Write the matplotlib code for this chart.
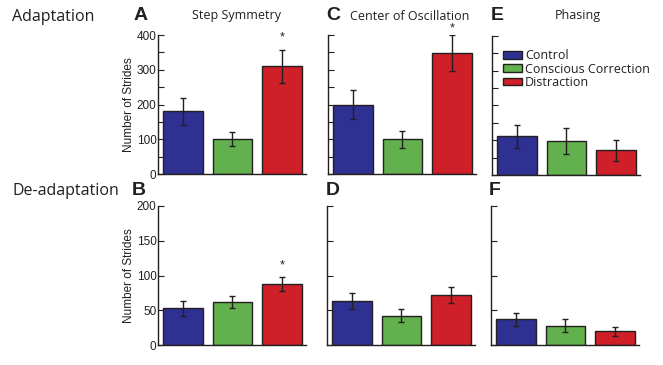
import matplotlib.pyplot as plt
from matplotlib.patches import Rectangle

groups = ["Control", "Conscious Correction", "Distraction"]
colors = ["#2e3192", "#62b04e", "#cf2029"]

# adaptation row (A, C, E)
step_adapt = [180, 100, 310]
step_adapt_err = [40, 20, 47]
center_adapt = [200, 100, 348]
center_adapt_err = [43, 24, 52]
phase_adapt = [111, 97, 71]
phase_adapt_err = [33, 37, 30]

# de-adaptation row (B, D, F)
step_deadapt = [53, 62, 88]
step_deadapt_err = [11, 9, 10]
center_deadapt = [64, 42, 72]
center_deadapt_err = [11.5, 9.5, 12]
phase_deadapt = [37, 28, 20]
phase_deadapt_err = [9, 9, 6.5]

# significance stars: (bar index, height)
star_A = (2, 393)
star_C = (2, 418)
star_B = (2, 114)

W, H = 663, 365
ink = "#231f20"


def make_ax(fig, x0, y0, x1, y1):
    return fig.add_axes([x0 / W, 1 - y1 / H, (x1 - x0) / W, (y1 - y0) / H])


def draw_bars(ax, vals, errs, ymax, major, labels=True):
    xs = [1, 2, 3]
    ax.bar(xs, vals, width=0.8, color=colors, edgecolor=ink, linewidth=1.0, zorder=2)
    ax.errorbar(xs, vals, yerr=errs, fmt="none", ecolor=ink, elinewidth=1.0,
                capsize=2, capthick=1.0, zorder=3)
    ax.set_xlim(0.5, 3.48)
    ax.set_ylim(0, ymax)
    ax.set_xticks([])
    ax.set_yticks(range(0, ymax + 1, major))
    ax.set_yticks(range(0, ymax + 1, 50), minor=True)
    ax.tick_params(axis="y", which="both", direction="in", length=4, width=0.8,
                   labelsize=8.5, pad=1, colors=ink, labelleft=labels)
    for s in ["top", "right"]:
        ax.spines[s].set_visible(False)
    for s in ["left", "bottom"]:
        ax.spines[s].set_color(ink)
        ax.spines[s].set_linewidth(1.0)
    for lab in ax.get_yticklabels():
        lab.set_fontfamily("Liberation Sans")


def add_star(ax, star):
    i, y = star
    ax.text(i + 1, y, "*", ha="center", va="center", fontsize=9, color=ink,
            clip_on=False, fontfamily="Liberation Sans")


def main():
    fig = plt.figure(figsize=(6.63, 3.65), dpi=100)

    axA = make_ax(fig, 158, 35, 306, 174)
    axC = make_ax(fig, 328, 35, 476, 174)
    axE = make_ax(fig, 492, 36, 640, 175)
    axB = make_ax(fig, 158, 206, 306, 345)
    axD = make_ax(fig, 327, 206, 475, 345)
    axF = make_ax(fig, 491, 206, 639, 345)

    draw_bars(axA, step_adapt, step_adapt_err, 400, 100)
    draw_bars(axC, center_adapt, center_adapt_err, 400, 100, labels=False)
    draw_bars(axE, phase_adapt, phase_adapt_err, 400, 100, labels=False)
    draw_bars(axB, step_deadapt, step_deadapt_err, 200, 50)
    draw_bars(axD, center_deadapt, center_deadapt_err, 200, 50, labels=False)
    draw_bars(axF, phase_deadapt, phase_deadapt_err, 200, 50, labels=False)

    add_star(axA, star_A)
    add_star(axC, star_C)
    add_star(axB, star_B)

    for ax in [axA, axB]:
        ax.set_ylabel("Number of Strides", fontsize=8.5, color=ink, labelpad=1,
                      fontfamily="Liberation Sans")

    # legend in panel E
    handles = [Rectangle((0, 0), 1, 1, facecolor=c, edgecolor=ink, linewidth=1.0)
               for c in colors]
    leg = axE.legend(handles, groups, loc="upper left", bbox_to_anchor=(0.04, 0.94),
                     frameon=False, handlelength=1.5, handleheight=0.55,
                     labelspacing=0.02, handletextpad=0.25, borderaxespad=0,
                     prop={"family": "Open Sans", "size": 9.0})
    for t in leg.get_texts():
        t.set_color(ink)

    # row labels, panel letters and titles
    fig.text(12 / W, 1 - 17 / H, "Adaptation", fontsize=11.5, color=ink,
             va="center", fontfamily="Open Sans")
    fig.text(12 / W, 1 - 191 / H, "De-adaptation", fontsize=11.5, color=ink,
             va="center", fontfamily="Open Sans")
    letters = [("A", 134, 16), ("C", 326, 16), ("E", 491, 16),
               ("B", 132, 191), ("D", 326, 191), ("F", 489, 191)]
    for s, x, y in letters:
        fig.text(x / W, 1 - y / H, s, fontsize=14, fontweight="bold", color=ink,
                 va="center", fontfamily="Liberation Sans")
    titles = [("Step Symmetry", 237), ("Center of Oscillation", 410), ("Phasing", 578)]
    for s, x in titles:
        fig.text(x / W, 1 - 16 / H, s, fontsize=9, color=ink, ha="center",
                 va="center", fontfamily="Open Sans")

    plt.savefig("out.png", dpi=100)
    plt.close()


if __name__ == "__main__":
    main()
